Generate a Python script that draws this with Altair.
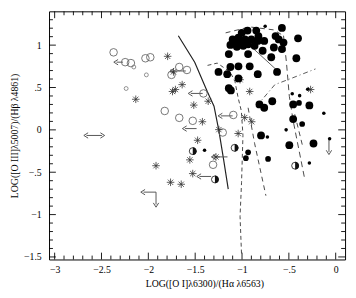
import altair as alt
import pandas as pd

# ---------------- data ----------------
big_x = [-1.003, -0.941, -0.848, -0.574, -1.100, -1.038, -0.969, -0.900, -0.825, -0.763,
         -1.124, -1.055, -0.987, -0.935, -0.866, -0.642, -0.608, -0.557, -0.660, -0.402,
         -1.141, -0.935, -0.780, -0.574, -0.688, -0.420, -1.251, -1.124, -1.038, -0.918,
         -1.158, -0.832, -0.626, -1.038, -1.141, -1.119, -0.814, -0.763, -0.677, -0.454,
         -0.281, -1.072, -1.021, -0.832, -0.454, -0.797, -0.495, -0.237]
big_y = [1.145, 1.172, 1.172, 1.203, 1.068, 1.088, 1.068, 1.068, 1.107, 1.050,
         1.003, 0.980, 0.992, 1.010, 0.992, 1.107, 1.068, 1.030, 0.972, 1.080,
         0.895, 0.895, 0.934, 0.953, 0.857, 0.845, 0.684, 0.742, 0.750, 0.750,
         0.657, 0.657, 0.684, 0.607, 0.491, 0.465, 0.300, 0.261, 0.338, 0.300,
         0.288, 1.050, 1.030, 1.050, 0.127, -0.066, -0.181, -0.161]

med_x = [-0.392, -0.358, -0.935, -0.959, -0.722]
med_y = [0.318, 0.069, -0.265, -0.334, -0.343]

small_x = [-0.753, -0.464, -0.385, -0.299, -0.127, -0.529, -0.729, -0.065, -0.281, -1.40]
small_y = [1.223, 0.427, 0.404, 0.480, 0.196, 0.0, -0.085, -0.104, -0.392, -0.24]

open_x = [-2.371, -2.247, -2.186, -2.031, -1.979, -1.753, -1.670, -1.588, -1.825, -1.670,
          -1.526, -1.412, -1.093, -1.206, -1.309]
open_y = [0.915, 0.799, 0.788, 0.845, 0.857, 0.649, 0.742, 0.707, 0.223, 0.142,
          0.107, 0.430, 0.176, -0.031, -0.412]

open_small_x = [-2.155, -2.021, -2.237]
open_small_y = [0.742, 0.649, 0.488]

star_x = [-1.794, -2.134, -1.639, -1.711, -1.515, -1.423, -1.474, -1.557, -1.918, -1.526,
          -1.763, -1.649, -1.361, -1.247, -1.041, -0.897, -1.278, -0.918, -1.021, -1.732,
          -1.742, -0.972, -0.268]
star_y = [0.868, 0.361, 0.534, 0.476, 0.292, 0.096, -0.123, -0.354, -0.423, -0.516,
          -0.619, -0.642, 0.338, 0.003, -0.043, 0.096, -0.320, 0.453, 0.592, 0.684,
          0.453, 0.145, 0.476]

half_x = [-1.526, -1.079, -0.433, -1.289]
half_y = [-0.251, -0.212, -0.423, -0.585]

# left-pointing limit arrows: tail x, head x, y
arr_tail = [-2.27, -1.60, -1.42, -1.485, -1.10, -1.155, -1.33, -1.918, -2.495]
arr_head = [-2.34, -1.74, -1.546, -1.608, -1.227, -1.299, -1.454, -2.052, -2.660]
arr_y = [0.799, 0.695, 0.430, 0.015, 0.165, -0.319, -0.550, -0.735, -0.066]
# right head of the double arrow
rhead_x = [-2.495]
rhead_y = [-0.066]
# downward limit arrows: x, tail y, head y
darr_x = [-1.918, -0.072]
darr_y0 = [-0.735, -0.12]
darr_y1 = [-0.881, -0.26]

# curves
solid_x = [-1.680, -1.505, -1.371, -1.299, -1.247, -1.196, -1.147]
solid_y = [1.111, 0.799, 0.453, 0.280, -0.008, -0.354, -0.700]

arc_x = [-1.368, -1.265, -1.127, -1.075, -1.041, -1.007, -0.990, -1.005, -1.021, -1.005]
arc_y = [0.761, 0.788, 0.684, 0.569, 0.376, 0.223, -0.066, -0.619, -1.023, -1.473]

mid_x = [-0.935, -0.866, -0.745]
mid_y = [0.261, -0.158, -0.777]

top_x = [-1.175, -0.918, -0.660, -0.557]
top_y = [1.145, 1.215, 1.180, 1.111]

right_x = [-0.557, -0.526, -0.495, -0.454, -0.392, -0.330]
right_y = [1.111, 0.799, 0.396, 0.107, -0.239, -0.584]

right2_x = [-0.437, -0.351]
right2_y = [0.184, -0.201]

inner_x = [-0.969, -0.608]
inner_y = [1.050, 0.684]

dd_x = [-0.845, -0.649, -0.485, -0.216]
dd_y = [0.280, 0.534, 0.603, 0.719]

# axis ticks / labels
x_major = [-3, -2.5, -2, -1.5, -1, -0.5, 0]
x_minor = [round(-3 + 0.1 * i, 1) for i in range(31) if i % 5]
y_major = [-1.5, -1, -0.5, 0, 0.5, 1]
y_minor = [round(-1.5 + 0.1 * i, 1) for i in range(29) if i % 5]

# ---------------- chart ----------------
W, H = 303, 254
SERIF = "Liberation Serif"

xs = alt.Scale(domain=[-3.06, 0.1], zero=False, nice=False)
ys = alt.Scale(domain=[-1.53, 1.399], zero=False, nice=False)

LBL = ("datum.value == -0.5 ? '\u2212.5' : datum.value == 0.5 ? '.5' : "
       "replace(format(datum.value, '~g'), '-', '\u2212')")

x_axis = alt.Axis(values=x_major, ticks=False, domain=False, grid=False,
                  labelFont=SERIF, labelFontSize=10, labelColor="black", labelPadding=5,
                  labelExpr=LBL,
                  title="LOG([O I]\u03bb6300)/(H\u03b1 \u03bb6563)", titleFont=SERIF,
                  titleFontSize=10, titleFontWeight="normal", titleColor="black",
                  titleX=159, titleY=25, titleBaseline="middle")
y_axis = alt.Axis(values=y_major, ticks=False, domain=False, grid=False,
                  labelFont=SERIF, labelFontSize=10, labelColor="black", labelPadding=8,
                  labelExpr=LBL,
                  title="LOG([O III]\u03bb5007)/(H\u03b2 \u03bb4861)", titleFont=SERIF,
                  titleFontSize=10, titleFontWeight="normal", titleColor="black",
                  titleX=-35, titleY=127, titleAngle=270, titleBaseline="middle")

XE = alt.X("x:Q", scale=xs, axis=x_axis)
YE = alt.Y("y:Q", scale=ys, axis=y_axis)


def df(xv, yv):
    return pd.DataFrame({"x": xv, "y": yv})


def line(xv, yv, dash=None, width=1.0, color="#222"):
    d = pd.DataFrame({"x": xv, "y": yv, "o": list(range(len(xv)))})
    kw = dict(color=color, strokeWidth=width, clip=True)
    if dash:
        kw["strokeDash"] = dash
    return alt.Chart(d).mark_line(**kw).encode(x=XE, y=YE, order="o:Q")


ASTER = "M-1,0L1,0M0,-1L0,1M-0.7,-0.7L0.7,0.7M-0.7,0.7L0.7,-0.7"
HALF = "M0,-1A1,1,0,0,1,0,1Z"
LHEAD = "M0.6,-1L-1,0L0.6,1"
RHEAD = "M-0.6,-1L1,0L-0.6,1"
DHEAD = "M-1,-0.6L0,1L1,-0.6"

layers = []

# tick marks (inward, all four sides)
xmaj = pd.DataFrame({"x": x_major})
xmin = pd.DataFrame({"x": x_minor})
ymaj = pd.DataFrame({"y": y_major})
ymin = pd.DataFrame({"y": y_minor})
tk = dict(color="black", strokeWidth=0.9)
layers += [
    alt.Chart(xmaj).mark_rule(**tk).encode(x=XE, y=alt.value(H), y2=alt.value(H - 7)),
    alt.Chart(xmin).mark_rule(**tk).encode(x=XE, y=alt.value(H), y2=alt.value(H - 4)),
    alt.Chart(xmaj).mark_rule(**tk).encode(x=XE, y=alt.value(0), y2=alt.value(7)),
    alt.Chart(xmin).mark_rule(**tk).encode(x=XE, y=alt.value(0), y2=alt.value(4)),
    alt.Chart(ymaj).mark_rule(**tk).encode(y=YE, x=alt.value(0), x2=alt.value(7)),
    alt.Chart(ymin).mark_rule(**tk).encode(y=YE, x=alt.value(0), x2=alt.value(4)),
    alt.Chart(ymaj).mark_rule(**tk).encode(y=YE, x=alt.value(W), x2=alt.value(W - 7)),
    alt.Chart(ymin).mark_rule(**tk).encode(y=YE, x=alt.value(W), x2=alt.value(W - 4)),
]

# curves
layers += [
    line(solid_x, solid_y, None, 1.2, "#222"),
    line(arc_x, arc_y, [4, 3], 0.9, "#333"),
    line(mid_x, mid_y, [5, 4], 0.9, "#333"),
    line(top_x, top_y, [5, 4], 0.9, "#333"),
    line(right_x, right_y, [6, 4], 0.9, "#333"),
    line(right2_x, right2_y, [5, 4], 0.9, "#333"),
    line(inner_x, inner_y, None, 0.8, "#333"),
    line(dd_x, dd_y, [5, 3, 1, 3], 0.9, "#444"),
]

# arrows
arr = pd.DataFrame({"x": arr_tail, "x2": arr_head, "y": arr_y})
layers.append(alt.Chart(arr).mark_rule(color="#555", strokeWidth=1).encode(
    x=XE, x2="x2:Q", y=YE))
layers.append(alt.Chart(pd.DataFrame({"x": arr_head, "y": arr_y})).mark_point(
    shape=LHEAD, filled=False, color="#555", strokeWidth=1, size=30, opacity=1).encode(x=XE, y=YE))
layers.append(alt.Chart(df(rhead_x, rhead_y)).mark_point(
    shape=RHEAD, filled=False, color="#555", strokeWidth=1, size=30, opacity=1).encode(x=XE, y=YE))
darr = pd.DataFrame({"x": darr_x, "y": darr_y0, "y2": darr_y1})
layers.append(alt.Chart(darr).mark_rule(color="#555", strokeWidth=1).encode(
    x=XE, y=YE, y2="y2:Q"))
layers.append(alt.Chart(pd.DataFrame({"x": darr_x, "y": darr_y1})).mark_point(
    shape=DHEAD, filled=False, color="#555", strokeWidth=1, size=30, opacity=1).encode(x=XE, y=YE))

# markers
layers += [
    alt.Chart(df(open_x, open_y)).mark_point(shape="circle", filled=False, color="#666",
                                             strokeWidth=0.9, size=60, opacity=1).encode(x=XE, y=YE),
    alt.Chart(df(open_small_x, open_small_y)).mark_point(shape="circle", filled=False, color="#777",
                                                         strokeWidth=0.8, size=16, opacity=1).encode(x=XE, y=YE),
    alt.Chart(df(star_x, star_y)).mark_point(shape=ASTER, filled=False, color="#333",
                                             strokeWidth=0.8, size=60, opacity=1).encode(x=XE, y=YE),
    alt.Chart(df(half_x, half_y)).mark_point(shape="circle", filled=False, color="#111",
                                             strokeWidth=0.8, size=50, opacity=1).encode(x=XE, y=YE),
    alt.Chart(df(half_x, half_y)).mark_point(shape=HALF, filled=True, color="#111",
                                             size=64, opacity=1).encode(x=XE, y=YE),
    alt.Chart(df(big_x, big_y)).mark_circle(color="black", size=64, opacity=1).encode(x=XE, y=YE),
    alt.Chart(df(med_x, med_y)).mark_circle(color="black", size=34, opacity=1).encode(x=XE, y=YE),
    alt.Chart(df(small_x, small_y)).mark_circle(color="black", size=13, opacity=1).encode(x=XE, y=YE),
]

chart = alt.layer(*layers).properties(
    width=W, height=H,
    padding={"left": 42, "top": 0, "right": 3, "bottom": 36},
    autosize=alt.AutoSizeParams(type="none"),
    background="white",
).configure_view(stroke="black", strokeWidth=1)

chart.save("out.html", embed_options={"renderer": "svg", "actions": False})
